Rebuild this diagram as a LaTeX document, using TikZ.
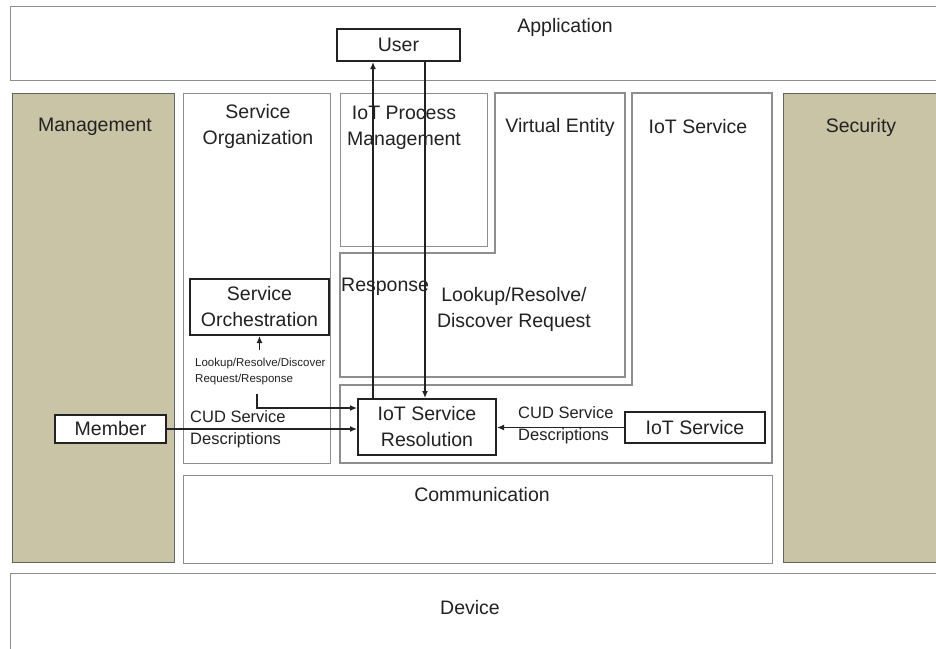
\documentclass[tikz,border=0pt]{standalone}
\usepackage{fontspec}
\setmainfont{Liberation Sans}
\usetikzlibrary{arrows.meta,calc}
\definecolor{tanfill}{HTML}{C9C4A5}
\definecolor{layerline}{HTML}{8E8E8E}
\definecolor{ink}{HTML}{222222}
\begin{document}
\begin{tikzpicture}[x=1pt,y=-1pt,
  layer/.style={draw=layerline, line width=1.2pt, fill=white, anchor=north west, inner sep=0pt},
  side/.style={draw=layerline!70!black, line width=1.2pt, fill=tanfill, anchor=north west, inner sep=0pt},
  blk/.style={draw=ink, line width=2pt, fill=white, inner sep=0pt, anchor=north west, text=ink,
    font=\fontsize{19.5}{26}\selectfont, align=center},
  lbl/.style={text=ink, inner sep=0pt, font=\fontsize{19.5}{26}\selectfont, align=center},
  sml/.style={text=ink, inner sep=0pt, anchor=west, font=\fontsize{16.5}{22}\selectfont, align=left},
  tinytxt/.style={text=ink, inner sep=0pt, anchor=west, font=\fontsize{11.5}{16}\selectfont, align=left},
  arr/.style={draw=ink, line width=1.3pt, -{Latex[length=7pt,width=6pt]}},
]
\useasboundingbox (0,0) rectangle (936,648);
\fill[white] (0,0) rectangle (936,648);

% outer layers
\node[layer, minimum width=930pt, minimum height=74pt] (app) at (10,6) {};
\node[lbl] (applbl) at (565,27) {Application};
\node[layer, minimum width=930pt, minimum height=90pt] (dev) at (10,573) {};
\node[lbl] (devlbl) at (470,608) {Device};
\node[side, minimum width=162pt, minimum height=469pt] (mgmt) at (12,93) {};
\node[lbl] (mgmtlbl) at (95,127) {Management};
\node[side, minimum width=160pt, minimum height=469pt] (sec) at (783,93) {};
\node[lbl] (seclbl) at (861,127) {Security};

% functional groups
\node[layer, minimum width=147pt, minimum height=370pt] (sorg) at (183,93) {};
\node[lbl] (sorglbl) at (258,126) {Service\\Organization};
\draw[layerline, line width=1.2pt, fill=white]
  (495,93) -- (625,93) -- (625,377) -- (340,377) -- (340,253) -- (495,253) -- cycle;
\node[layer, minimum width=147pt, minimum height=153pt] (ipm) at (340,93) {};
\node[lbl] (ipmlbl) at (404,128) {IoT Process\\Management};
\node[lbl] (velbl) at (560,127) {Virtual Entity};
\draw[layerline, line width=1.2pt, fill=white]
  (632,93) -- (772,93) -- (772,463) -- (340,463) -- (340,385) -- (632,385) -- cycle;
\node[lbl] (svclbl) at (698,127) {IoT Service};
\node[layer, minimum width=589pt, minimum height=88pt] (comm) at (183,475) {};
\node[lbl] (commlbl) at (482,495) {Communication};

% labels inside the groups
\node[lbl, anchor=west] (resp) at (341,287) {Response};
\node[lbl] (lrd) at (514,309) {Lookup/Resolve/\\Discover Request};
\node[tinytxt] (lrdsmall) at (195,372) {Lookup/Resolve/Discover\\Request/Response};
\node[sml] (cudl) at (190,429) {CUD Service\\Descriptions};
\node[sml] (cudr) at (518,425) {CUD Service\\Descriptions};

% functional components
\node[blk, minimum width=123pt, minimum height=32pt] (user) at (336,28) {User};
\node[blk, minimum width=139pt, minimum height=56pt] (so) at (189,278) {Service\\Orchestration};
\node[blk, minimum width=111pt, minimum height=28pt] (member) at (54,414) {Member};
\node[blk, minimum width=138pt, minimum height=56pt] (res) at (357,398) {IoT Service\\Resolution};
\node[blk, minimum width=140pt, minimum height=31pt] (svc) at (624,411) {IoT Service};

% connectors
\coordinate (up1) at ($(res.north west)+(16,0)$);
\coordinate (dn1) at ($(res.north west)+(68,0)$);
\draw[arr] (up1) -- (up1 |- user.south);
\draw[arr] (dn1 |- user.south) -- (dn1);
\draw[arr] ($(so.south)+(0,14)$) -- (so.south);
\coordinate (lrstart) at (257,394);
\coordinate (lrbend) at (257,408);
\draw[arr] (lrstart) -- (lrbend) -- (lrbend -| res.west);
\draw[arr] (member.east) -- (member.east -| res.west);
\draw[arr] (svc.west) -- (svc.west -| res.east);
\end{tikzpicture}
\end{document}
